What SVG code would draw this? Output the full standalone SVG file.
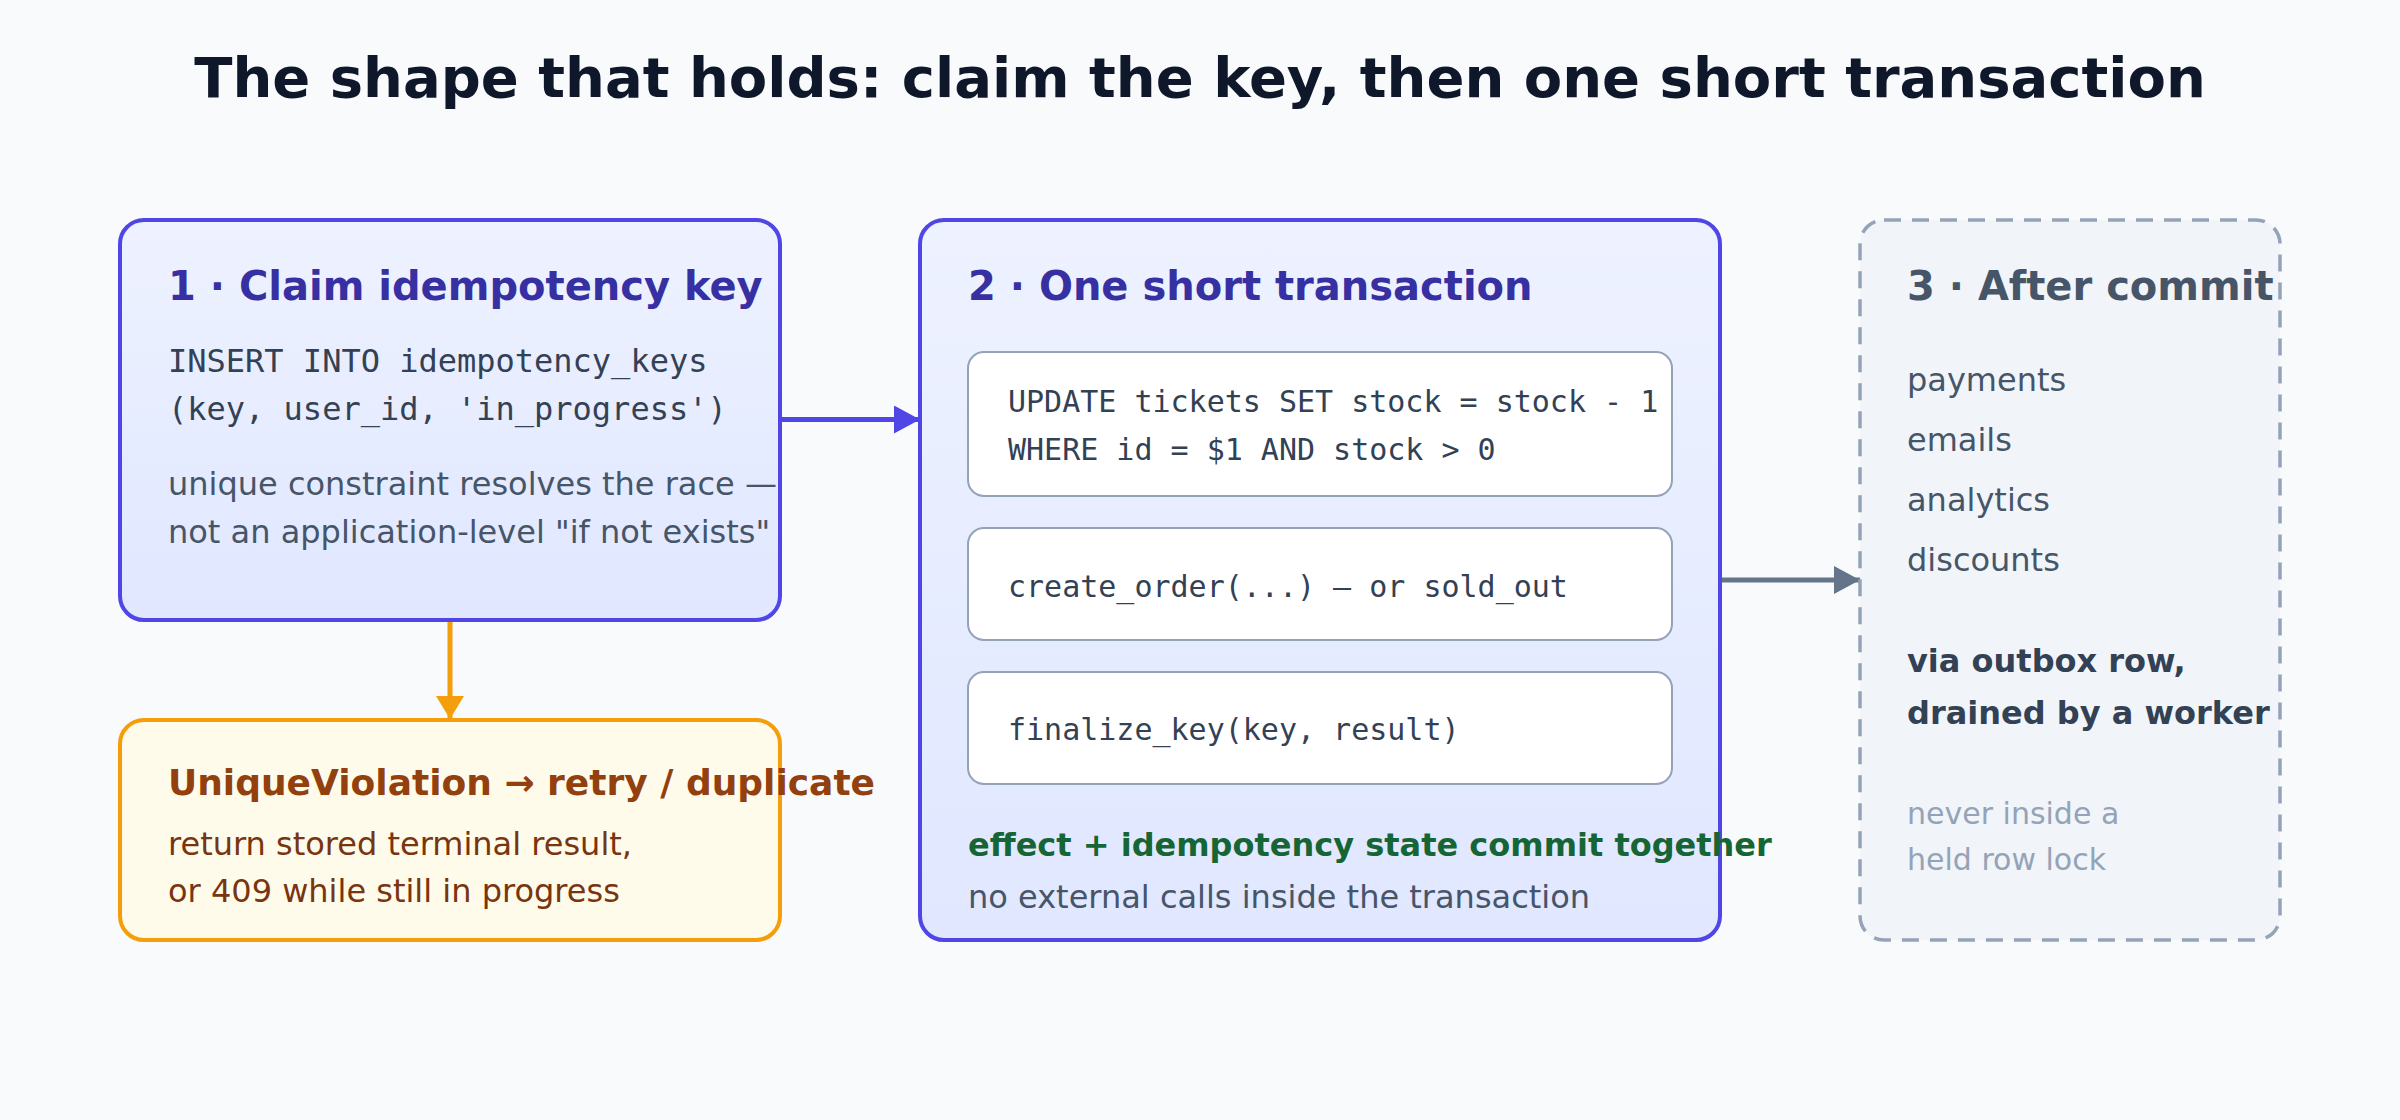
<svg xmlns="http://www.w3.org/2000/svg" width="2400" height="1120" viewBox="0 0 2400 1120">
<defs>
<linearGradient id="gIndigo" x1="0" y1="0" x2="0" y2="1">
<stop offset="0" stop-color="#eef2ff"/>
<stop offset="1" stop-color="#e0e7ff"/>
</linearGradient>
<marker id="mIndigo" markerUnits="userSpaceOnUse" viewBox="0 0 26 28" markerWidth="26" markerHeight="28" refX="26" refY="14" orient="auto">
<path d="M0,0 L26,14 L0,28 Z" fill="#4f46e5"/>
</marker>
<marker id="mSlate" markerUnits="userSpaceOnUse" viewBox="0 0 26 28" markerWidth="26" markerHeight="28" refX="26" refY="14" orient="auto">
<path d="M0,0 L26,14 L0,28 Z" fill="#64748b"/>
</marker>
<marker id="mAmber" markerUnits="userSpaceOnUse" viewBox="0 0 23 28" markerWidth="23" markerHeight="28" refX="23" refY="14" orient="auto">
<path d="M0,0 L23,14 L0,28 Z" fill="#f59e0b"/>
</marker>
</defs>
<style>
text { font-family: "DejaVu Sans", "Liberation Sans", sans-serif; }
.title { font-size: 56px; font-weight: bold; fill: #0f172a; }
.h { font-size: 40px; font-weight: bold; fill: #3730a3; }
.body { font-size: 32px; fill: #475569; }
.code { font-family: "DejaVu Sans Mono", "Liberation Mono", monospace; fill: #334155; }
.c32 { font-size: 32px; }
.c30 { font-size: 30px; }
.panel { fill: url(#gIndigo); stroke: #4f46e5; stroke-width: 4; }
.step { fill: #ffffff; stroke: #94a3b8; stroke-width: 2; }
</style>
<rect x="0" y="0" width="2400" height="1120" fill="#f8fafc"/>
<text class="title" x="1200" y="97" text-anchor="middle">The shape that holds: claim the key, then one short transaction</text>

<g id="connectors" fill="none">
<line x1="781" y1="419.5" x2="920" y2="419.5" stroke="#4f46e5" stroke-width="5" marker-end="url(#mIndigo)"/>
<line x1="1720" y1="580" x2="1860" y2="580" stroke="#64748b" stroke-width="5" marker-end="url(#mSlate)"/>
<line x1="450" y1="621" x2="450" y2="719" stroke="#f59e0b" stroke-width="5" marker-end="url(#mAmber)"/>
</g>

<g id="claim-key">
<rect class="panel" x="120" y="220" width="660" height="400" rx="24"/>
<text class="h" x="168" y="300">1 · Claim idempotency key</text>
<text class="code c32" x="168" y="372">INSERT INTO idempotency_keys</text>
<text class="code c32" x="168" y="420">(key, user_id, 'in_progress')</text>
<text class="body" x="168" y="495">unique constraint resolves the race —</text>
<text class="body" x="168" y="543">not an application-level "if not exists"</text>
</g>

<g id="unique-violation">
<rect x="120" y="720" width="660" height="220" rx="24" fill="#fffbeb" stroke="#f59e0b" stroke-width="4"/>
<text x="168" y="795" font-size="36" font-weight="bold" fill="#92400e">UniqueViolation → retry / duplicate</text>
<text x="168" y="855" font-size="32" fill="#78350f">return stored terminal result,</text>
<text x="168" y="902" font-size="32" fill="#78350f">or 409 while still in progress</text>
</g>

<g id="short-transaction">
<rect class="panel" x="920" y="220" width="800" height="720" rx="24"/>
<text class="h" x="968" y="300">2 · One short transaction</text>
<g id="step-update">
<rect class="step" x="968" y="352" width="704" height="144" rx="16"/>
<text class="code c30" x="1008" y="412">UPDATE tickets SET stock = stock - 1</text>
<text class="code c30" x="1008" y="460">WHERE id = $1 AND stock &gt; 0</text>
</g>
<g id="step-create">
<rect class="step" x="968" y="528" width="704" height="112" rx="16"/>
<text class="code c30" x="1008" y="597">create_order(...) — or sold_out</text>
</g>
<g id="step-finalize">
<rect class="step" x="968" y="672" width="704" height="112" rx="16"/>
<text class="code c30" x="1008" y="740">finalize_key(key, result)</text>
</g>
<text x="968" y="856" font-size="32" font-weight="bold" fill="#166534">effect + idempotency state commit together</text>
<text class="body" x="968" y="908">no external calls inside the transaction</text>
</g>

<g id="after-commit">
<rect x="1860" y="220" width="420" height="720" rx="24" fill="#f1f5f9" stroke="#94a3b8" stroke-width="3.5" stroke-dasharray="17 11"/>
<text x="1907" y="300" font-size="40" font-weight="bold" fill="#475569">3 · After commit</text>
<text class="body" x="1907" y="391">payments</text>
<text class="body" x="1907" y="451">emails</text>
<text class="body" x="1907" y="511">analytics</text>
<text class="body" x="1907" y="571">discounts</text>
<text x="1907" y="672" font-size="32" font-weight="bold" fill="#334155">via outbox row,</text>
<text x="1907" y="724" font-size="32" font-weight="bold" fill="#334155">drained by a worker</text>
<text x="1907" y="824" font-size="30" fill="#94a3b8">never inside a</text>
<text x="1907" y="870" font-size="30" fill="#94a3b8">held row lock</text>
</g>
</svg>
